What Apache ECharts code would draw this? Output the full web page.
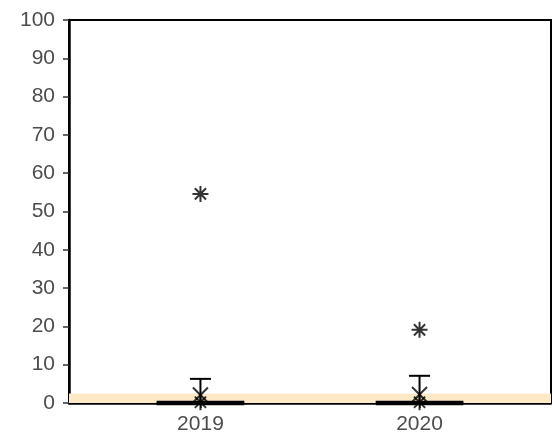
<!DOCTYPE html>
<html>
<head>
<meta charset="utf-8">
<script src="https://cdn.jsdelivr.net/npm/echarts@6/dist/echarts.min.js"></script>
<style>
  html, body { margin: 0; padding: 0; background: #fff; }
  #chart { width: 552px; height: 437px; }
</style>
</head>
<body>
<div id="chart"></div>
<script>
// data
const years = ['2019', '2020'];
const q1 = [0, 0];
const median = [0, 0];
const q3 = [0, 0];
const whiskerHigh = [6.3, 7.1];
const means = [2.1, 2.2];
const outliers = [[0.2, 54.6], [0.2, 19.1]];
const bandTop = 2.5;
const yTicks = [0, 10, 20, 30, 40, 50, 60, 70, 80, 90, 100];

const asteriskPath = 'path://M0,-1L0,1M-1,0L1,0M-0.7,-0.7L0.7,0.7M-0.7,0.7L0.7,-0.7';
const crossPath = 'path://M-1,-1L1,1M-1,1L1,-1';

const boxData = years.map(function(y, i) {
    return [i + 1, q1[i], q3[i], median[i], whiskerHigh[i]];
});
const outlierData = [];
outliers.forEach(function(list, i) {
    list.forEach(function(v) { outlierData.push([i + 1, v]); });
});
const meanData = means.map(function(m, i) { return [i + 1, m]; });

function renderBox(params, api) {
    const x = api.value(0);
    const lo = api.value(1), hi = api.value(2), med = api.value(3), wh = api.value(4);
    const halfBox = 0.2, halfCap = 0.048;
    const tl = api.coord([x - halfBox, hi]);
    const br = api.coord([x + halfBox, lo]);
    const mL = api.coord([x - halfBox, med]);
    const mR = api.coord([x + halfBox, med]);
    const wB = api.coord([x, hi]);
    const wT = api.coord([x, wh]);
    const cL = api.coord([x - halfCap, wh]);
    const cR = api.coord([x + halfCap, wh]);
    const black = { stroke: '#000', lineWidth: 2, fill: null };
    return {
        type: 'group',
        children: [
            { type: 'line', shape: { x1: wB[0], y1: wB[1], x2: wT[0], y2: wT[1] }, style: black },
            { type: 'line', shape: { x1: cL[0], y1: cL[1], x2: cR[0], y2: cR[1] }, style: black },
            { type: 'rect', shape: { x: tl[0], y: tl[1], width: br[0] - tl[0], height: br[1] - tl[1] },
              style: { stroke: '#000', lineWidth: 1.5, fill: '#fff' } },
            { type: 'line', shape: { x1: mL[0], y1: mL[1], x2: mR[0], y2: mR[1] },
              style: { stroke: '#000', lineWidth: 4.5 } }
        ]
    };
}

const chart = echarts.init(document.getElementById('chart'));
const option = {
    animation: false,
    grid: {
        left: 69, right: 1, top: 20, bottom: 34,
        show: true, borderColor: '#000', borderWidth: 2, backgroundColor: '#fff'
    },
    xAxis: {
        type: 'value', min: 0.4, max: 2.6,
        splitLine: { show: false },
        axisLine: { show: true, onZero: false, lineStyle: { color: '#000', width: 2.5 } },
        axisTick: { show: true, customValues: [1, 2], length: 5, lineStyle: { color: '#333', width: 1.5 } },
        axisLabel: {
            customValues: [1, 2], margin: 11,
            color: '#4d4d4d', fontSize: 21, fontFamily: 'Liberation Sans',
            formatter: function(v) { return years[Math.round(v) - 1]; }
        }
    },
    yAxis: {
        type: 'value', min: 0, max: 100, interval: 10,
        splitLine: { show: false },
        axisLine: { show: true, lineStyle: { color: '#000', width: 2.5 } },
        axisTick: { show: true, length: 6, lineStyle: { color: '#333', width: 1.5 } },
        axisLabel: {
            margin: 14, color: '#4d4d4d', fontSize: 21, fontFamily: 'Liberation Sans',
            formatter: function(v) { return yTicks.indexOf(v) >= 0 ? String(v) : ''; }
        }
    },
    series: [
        {
            type: 'line', data: [], silent: true,
            markArea: {
                silent: true,
                itemStyle: { color: '#fee9c6' },
                data: [[{ yAxis: 0 }, { yAxis: bandTop }]]
            }
        },
        {
            type: 'custom', renderItem: renderBox, data: boxData, clip: false, z: 3
        },
        {
            type: 'scatter', data: outlierData, symbol: asteriskPath, symbolSize: 16, z: 4,
            itemStyle: { color: 'rgba(0,0,0,0)', borderColor: '#000', borderWidth: 2 }
        },
        {
            type: 'scatter', data: meanData, symbol: crossPath, symbolSize: 15, z: 5,
            itemStyle: { color: 'rgba(0,0,0,0)', borderColor: '#000', borderWidth: 2 }
        }
    ]
};
chart.setOption(option);
</script>
</body>
</html>
